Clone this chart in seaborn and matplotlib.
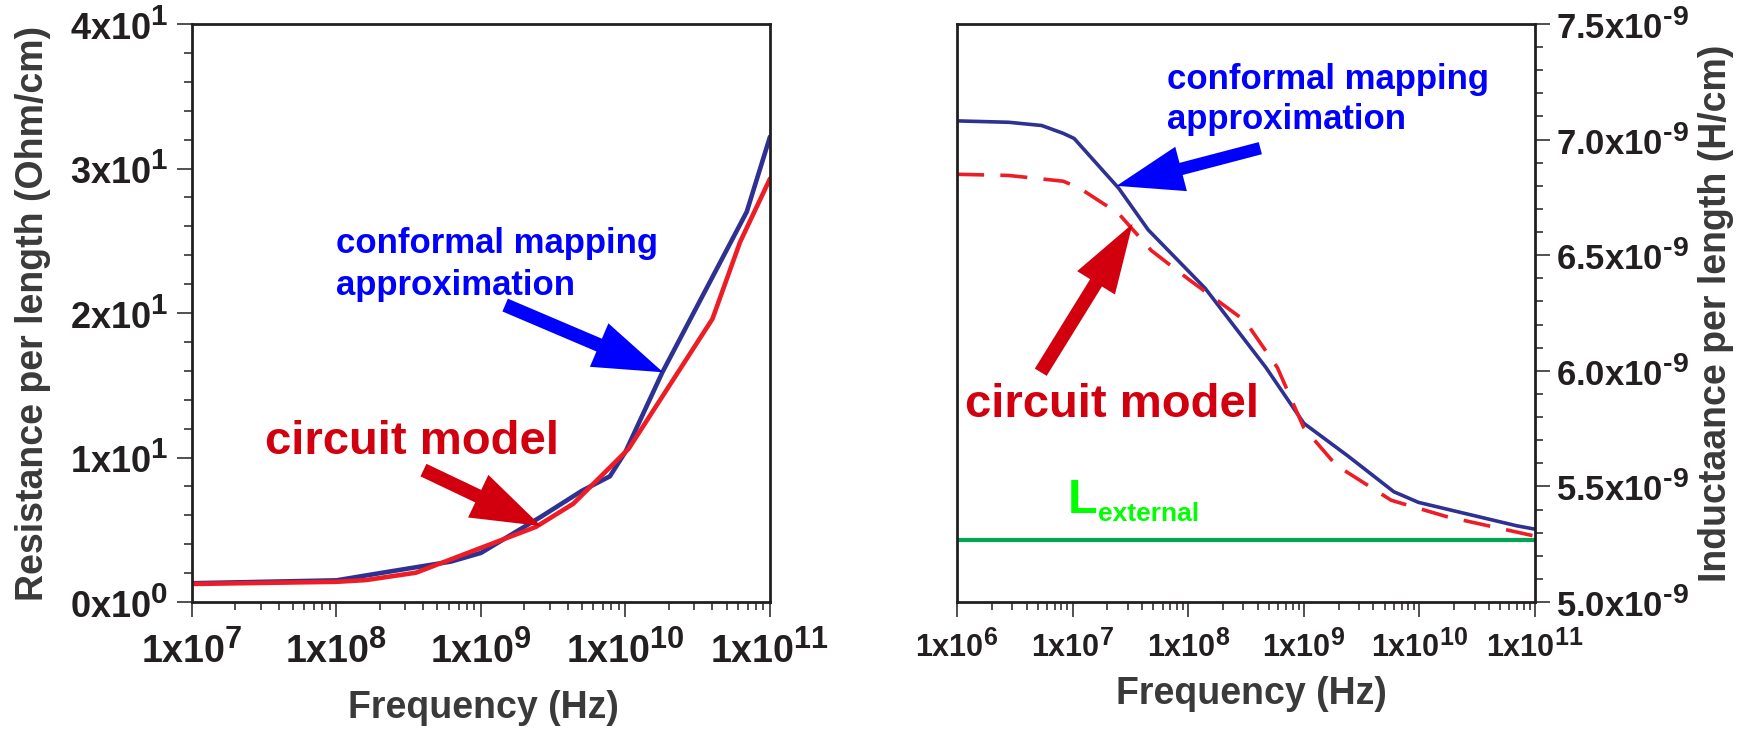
import matplotlib
matplotlib.use("Agg")
import matplotlib.pyplot as plt
import matplotlib._mathtext as mathtext_internal
from matplotlib import ticker
import numpy as np
import pandas as pd
import seaborn as sns

sns.set_style("ticks")
plt.rcParams["font.family"] = ["Liberation Sans", "DejaVu Sans"]
plt.rcParams["font.weight"] = "bold"
plt.rcParams["mathtext.fontset"] = "custom"
plt.rcParams["mathtext.rm"] = "Liberation Sans:bold"
plt.rcParams["mathtext.it"] = "Liberation Sans:bold"
plt.rcParams["mathtext.bf"] = "Liberation Sans:bold"
# exponents in the original are only a little smaller than the mantissa
mathtext_internal.SHRINK_FACTOR = 0.82

# ---- left panel: resistance per length ----
freq_r_conf = [1e7, 1e8, 2e8, 6.2e8, 1e9, 2.6e9, 5e9, 7.8e9, 1e10, 1.8e10, 6.9e10, 1e11]
res_conf = [1.3, 1.5, 2.0, 2.8, 3.4, 5.9, 7.7, 8.7, 10.4, 15.9, 27.0, 32.2]
freq_r_circ = [1e7, 1e8, 1.6e8, 3.55e8, 1e9, 2.4e9, 4.35e9, 1.05e10, 4e10, 6.2e10, 1e11]
res_circ = [1.25, 1.4, 1.52, 2.03, 3.75, 5.2, 6.8, 10.6, 19.6, 24.9, 29.3]

# ---- right panel: inductance per length ----
freq_l_conf = [1e6, 2.8e6, 5.4e6, 8.3e6, 1.03e7, 2.5e7, 4.5e7, 1.4e8, 4.7e8, 1e9, 2.4e9, 6e9, 9.8e9, 6.9e10, 1e11]
ind_conf = [7.081e-9, 7.075e-9, 7.061e-9, 7.027e-9, 7.005e-9, 6.79e-9, 6.61e-9, 6.357e-9,
            6.014e-9, 5.773e-9, 5.632e-9, 5.477e-9, 5.431e-9, 5.33e-9, 5.315e-9]
freq_l_circ = [1e6, 2.8e6, 8.3e6, 1.15e7, 2.5e7, 4.8e7, 1e8, 3.1e8, 5.9e8, 1e9, 1.9e9, 5.7e9, 1.7e10, 1e11]
ind_circ = [6.85e-9, 6.845e-9, 6.82e-9, 6.79e-9, 6.68e-9, 6.52e-9, 6.397e-9, 6.216e-9,
            6.014e-9, 5.753e-9, 5.592e-9, 5.44e-9, 5.37e-9, 5.285e-9]
l_external = 5.27e-9

r_ticks = [1e7, 1e8, 1e9, 1e10, 1e11]
r_tick_labels = ["1x10$^{7}$", "1x10$^{8}$", "1x10$^{9}$", "1x10$^{10}$", "1x10$^{11}$"]
r_yticks = [0, 10, 20, 30, 40]
r_ytick_labels = ["0x10$^{0}$", "1x10$^{1}$", "2x10$^{1}$", "3x10$^{1}$", "4x10$^{1}$"]
l_ticks = [1e6, 1e7, 1e8, 1e9, 1e10, 1e11]
l_tick_labels = ["1x10$^{6}$", "1x10$^{7}$", "1x10$^{8}$", "1x10$^{9}$", "1x10$^{10}$", "1x10$^{11}$"]
l_yticks = [5.0e-9, 5.5e-9, 6.0e-9, 6.5e-9, 7.0e-9, 7.5e-9]
l_ytick_labels = [r"5.0x10$^{\text{-}9}$", r"5.5x10$^{\text{-}9}$", r"6.0x10$^{\text{-}9}$",
                  r"6.5x10$^{\text{-}9}$", r"7.0x10$^{\text{-}9}$", r"7.5x10$^{\text{-}9}$"]

NAVY = "#2E3192"
RED_LINE = "#EE1C25"
RED_TXT = "#D2000F"
BLUE_TXT = "#0000FF"
TICK_C = "#231F20"
LABEL_C = "#3A3A3A"

fig = plt.figure(figsize=(17.56, 7.30), dpi=100)
ax1 = fig.add_axes([0.1093, 0.1753, 0.3292, 0.7918])
ax2 = fig.add_axes([0.5450, 0.1753, 0.3292, 0.7918])


def style_axes(ax):
    for sp in ax.spines.values():
        sp.set_linewidth(2.0)
        sp.set_color(TICK_C)
    ax.set_xscale("log")
    ax.tick_params(which="both", direction="out", color=TICK_C, labelcolor=TICK_C, width=1.1)
    ax.tick_params(which="major", length=11)
    ax.tick_params(which="minor", length=5.5)
    ax.tick_params(axis="x", which="both", top=False)
    ax.xaxis.set_minor_locator(ticker.LogLocator(base=10, subs=np.arange(2, 10), numticks=20))
    ax.xaxis.set_minor_formatter(ticker.NullFormatter())


# left
sns.lineplot(x=freq_r_conf, y=res_conf, ax=ax1, color=NAVY, linewidth=3.3, sort=False)
sns.lineplot(x=freq_r_circ, y=res_circ, ax=ax1, color=RED_LINE, linewidth=3.3, sort=False)
style_axes(ax1)
ax1.set_xlim(1e7, 1e11)
ax1.set_ylim(0, 40)
ax1.set_xticks(r_ticks)
ax1.set_xticklabels(r_tick_labels)
ax1.set_yticks(r_yticks)
ax1.set_yticklabels(r_ytick_labels)
ax1.yaxis.set_minor_locator(ticker.MultipleLocator(2))
ax1.tick_params(axis="y", which="both", right=False, left=True)
ax1.tick_params(axis="x", labelsize=27, pad=9)
ax1.tick_params(axis="y", labelsize=26, pad=6)
ax1.set_xlabel("Frequency (Hz)", fontsize=27, color=LABEL_C, fontweight="bold")
ax1.set_ylabel("Resistance per length (Ohm/cm)", fontsize=27, color=LABEL_C, fontweight="bold")
ax1.xaxis.set_label_coords(0.505, -0.152)
ax1.yaxis.set_label_coords(-0.244, 0.5)

ax1.text(1e8, 24.15, "conformal mapping", color=BLUE_TXT, fontsize=25, fontweight="bold", va="baseline")
ax1.text(1e8, 21.25, "approximation", color=BLUE_TXT, fontsize=25, fontweight="bold", va="baseline")
ax1.annotate("", xy=(1.82e10, 15.9), xytext=(1.47e9, 20.55),
             arrowprops=dict(arrowstyle="simple,head_length=5.0,head_width=3.4,tail_width=1.0",
                             color=BLUE_TXT, mutation_scale=10, shrinkA=0, shrinkB=0, lw=0))
ax1.text(3.2e7, 10.24, "circuit model", color=RED_TXT, fontsize=34, fontweight="bold", va="baseline")
ax1.annotate("", xy=(2.6e9, 5.26), xytext=(4e8, 9.13),
             arrowprops=dict(arrowstyle="simple,head_length=5.0,head_width=3.4,tail_width=1.0",
                             color=RED_TXT, mutation_scale=10, shrinkA=0, shrinkB=0, lw=0))

# right
sns.lineplot(x=freq_l_conf, y=ind_conf, ax=ax2, color=NAVY, linewidth=2.6, sort=False)
sns.lineplot(x=freq_l_circ, y=ind_circ, ax=ax2, color=RED_LINE, linewidth=2.6, sort=False,
             linestyle=(0, (7.5, 4.5)))
ax2.axhline(l_external, color="#00A651", linewidth=3.0)
style_axes(ax2)
ax2.set_xlim(1e6, 1e11)
ax2.set_ylim(5.0e-9, 7.5e-9)
ax2.set_xticks(l_ticks)
ax2.set_xticklabels(l_tick_labels)
ax2.yaxis.tick_right()
ax2.yaxis.set_label_position("right")
ax2.set_yticks(l_yticks)
ax2.set_yticklabels(l_ytick_labels)
ax2.yaxis.set_minor_locator(ticker.MultipleLocator(0.1e-9))
ax2.tick_params(axis="y", which="both", left=False, right=True)
ax2.tick_params(axis="x", labelsize=22, pad=9)
ax2.tick_params(axis="y", labelsize=25, pad=4)
ax2.set_xlabel("Frequency (Hz)", fontsize=27, color=LABEL_C, fontweight="bold")
ax2.set_ylabel("Inductaance per length (H/cm)", fontsize=27, color=LABEL_C, fontweight="bold",
               rotation=90)
ax2.xaxis.set_label_coords(0.509, -0.128)
ax2.yaxis.set_label_coords(1.282, 0.5)

ax2.text(6.6e7, 7.22e-9, "conformal mapping", color=BLUE_TXT, fontsize=25, fontweight="bold", va="baseline")
ax2.text(6.6e7, 7.045e-9, "approximation", color=BLUE_TXT, fontsize=25, fontweight="bold", va="baseline")
ax2.annotate("", xy=(2.4e7, 6.80e-9), xytext=(4.2e8, 6.963e-9),
             arrowprops=dict(arrowstyle="simple,head_length=4.8,head_width=3.3,tail_width=0.9",
                             color=BLUE_TXT, mutation_scale=10, shrinkA=0, shrinkB=0, lw=0))
ax2.text(1.17e6, 5.80e-9, "circuit model", color=RED_TXT, fontsize=34, fontweight="bold", va="baseline")
ax2.annotate("", xy=(3.3e7, 6.636e-9), xytext=(5.3e6, 5.994e-9),
             arrowprops=dict(arrowstyle="simple,head_length=5.0,head_width=3.2,tail_width=1.0",
                             color=RED_TXT, mutation_scale=10, shrinkA=0, shrinkB=0, lw=0))
t_l = ax2.text(9e6, 5.387e-9, "L", color="#00FF00", fontsize=35, fontweight="bold", va="baseline")
ax2.annotate("external", xy=(1, 0), xycoords=t_l, xytext=(0.5, 1), textcoords="offset points",
             color="#00FF00", fontsize=19, fontweight="bold", va="baseline", ha="left")

fig.savefig("out.png", dpi=100)
